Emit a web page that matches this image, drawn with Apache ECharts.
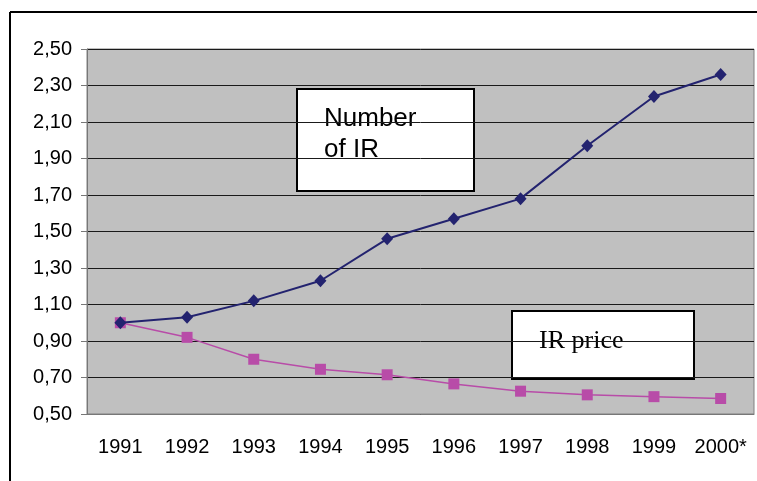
<!DOCTYPE html>
<html>
<head>
<meta charset="utf-8">
<script src="https://cdn.jsdelivr.net/npm/echarts@6/dist/echarts.min.js"></script>
<style>
  html, body { margin: 0; padding: 0; background: #fff; }
  #chart { width: 757px; height: 481px; }
</style>
</head>
<body>
<div id="chart"></div>
<script>
const years = ['1991', '1992', '1993', '1994', '1995', '1996', '1997', '1998', '1999', '2000*']
const numberOfIR = [1.00, 1.03, 1.12, 1.23, 1.46, 1.57, 1.68, 1.97, 2.24, 2.36]
const irPrice = [1.00, 0.92, 0.80, 0.745, 0.715, 0.665, 0.625, 0.605, 0.595, 0.585]

const chart = echarts.init(document.getElementById('chart'))

const axisFont = { fontFamily: 'Liberation Sans, Arial, sans-serif', fontSize: 20, color: '#000' }

const option = {
  animation: false,
  grid: {
    left: 87,
    top: 49,
    right: 3,
    bottom: 67,
    show: true,
    backgroundColor: '#c0c0c0',
    borderColor: '#808080',
    borderWidth: 1
  },
  xAxis: {
    type: 'category',
    data: years,
    axisLine: { lineStyle: { color: '#777', width: 1 } },
    axisTick: { interval: 0, length: 7, lineStyle: { color: '#777' } },
    axisLabel: { ...axisFont, interval: 0, margin: 23 }
  },
  yAxis: {
    type: 'value',
    min: 0.5,
    max: 2.5,
    interval: 0.2,
    axisLine: { show: true, lineStyle: { color: '#777', width: 1 } },
    axisTick: { show: true, length: 6, lineStyle: { color: '#777' } },
    splitLine: { lineStyle: { color: '#1a1a1a', width: 1 } },
    axisLabel: {
      ...axisFont,
      margin: 15,
      formatter: v => v.toFixed(2).replace('.', ',')
    }
  },
  series: [
    {
      name: 'Number of IR',
      type: 'line',
      data: numberOfIR,
      symbol: 'diamond',
      symbolSize: [12, 13],
      itemStyle: { color: '#23236f' },
      lineStyle: { color: '#23236f', width: 2 },
      z: 3
    },
    {
      name: 'IR price',
      type: 'line',
      data: irPrice,
      symbol: 'rect',
      symbolSize: 11,
      itemStyle: { color: '#b84ca8' },
      lineStyle: { color: '#b84ca8', width: 1.5 },
      z: 2
    }
  ],
  graphic: [
    // outer frame (top and left edges visible)
    { type: 'line', shape: { x1: 10, y1: 12, x2: 757, y2: 12 }, style: { stroke: '#000', lineWidth: 2 } },
    { type: 'line', shape: { x1: 10, y1: 12, x2: 10, y2: 481 }, style: { stroke: '#000', lineWidth: 2 } },
    {
      type: 'group',
      z: 10,
      children: [
        { type: 'rect', shape: { x: 297, y: 89, width: 177, height: 102 }, style: { fill: '#fff', stroke: '#000', lineWidth: 2 } },
        {
          type: 'text', x: 324, y: 134.5,
          style: {
            text: 'Number\nof IR',
            font: '26px "Liberation Sans", Arial, sans-serif',
            lineHeight: 31,
            fill: '#000',
            verticalAlign: 'middle'
          }
        },
        { type: 'rect', shape: { x: 512, y: 311, width: 182, height: 68 }, style: { fill: '#fff', stroke: '#000', lineWidth: 2 } },
        {
          type: 'text', x: 539, y: 341,
          style: {
            text: 'IR price',
            font: '26px "Liberation Serif", "Times New Roman", serif',
            fill: '#000',
            verticalAlign: 'middle'
          }
        }
      ]
    }
  ]
}

chart.setOption(option)
</script>
</body>
</html>
